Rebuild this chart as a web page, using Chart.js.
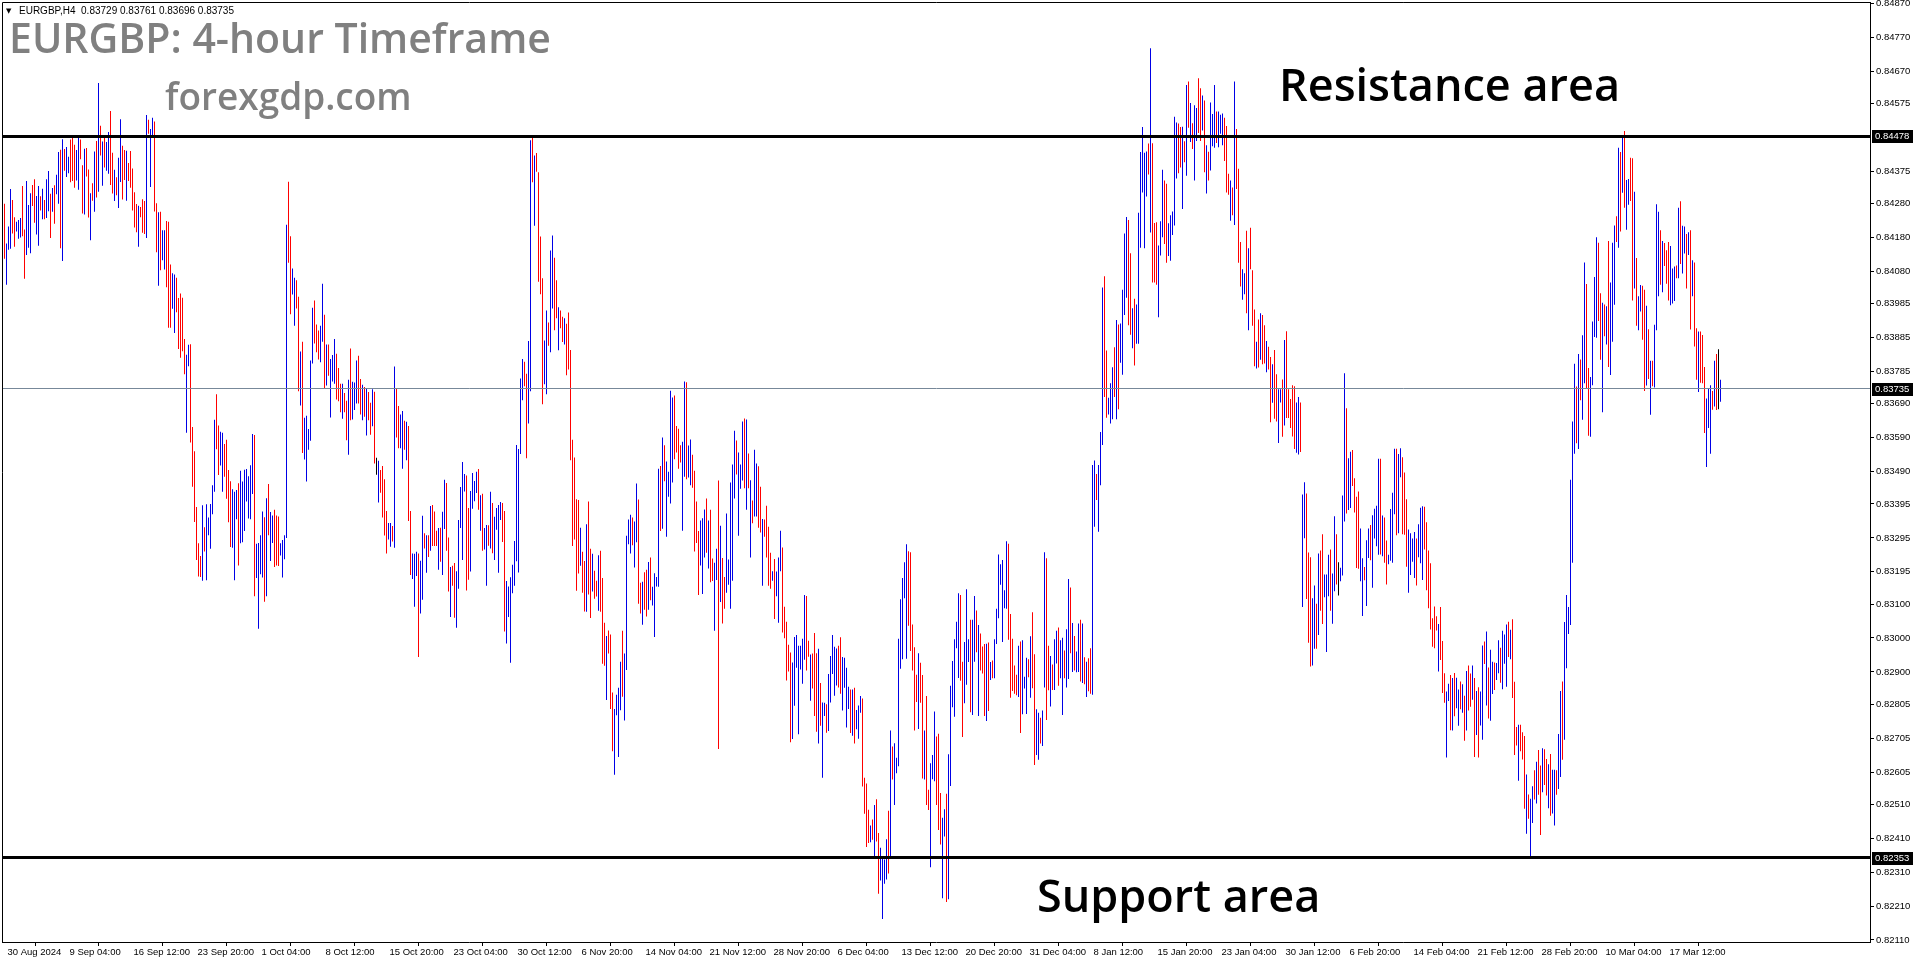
<!DOCTYPE html>
<html><head><meta charset="utf-8">
<script src="https://cdn.jsdelivr.net/npm/chart.js@4/dist/chart.umd.min.js"></script>
<style>html,body{margin:0;padding:0;background:#fff;overflow:hidden}canvas{display:block}</style>
</head><body>
<canvas id="c" width="1916" height="964"></canvas>
<script>
// ---- DATA (EURGBP H4 bars) ----
const highs = [
0.84280,0.84163,0.84213,0.84323,0.84291,0.84240,0.84227,0.84232,0.84238,0.84332,
0.84204,0.84347,0.84276,0.84311,0.84335,0.84352,0.84303,0.84332,0.84302,0.84324,
0.84291,0.84352,0.84376,0.84309,0.84326,0.84334,0.84365,0.84432,0.84439,0.84470,
0.84441,0.84447,0.84418,0.84469,0.84474,0.84454,0.84438,0.84476,0.84469,0.84393,
0.84442,0.84444,0.84381,0.84311,0.84340,0.84434,0.84465,0.84636,0.84510,0.84463,
0.84477,0.84462,0.84491,0.84553,0.84430,0.84380,0.84358,0.84415,0.84529,0.84451,
0.84438,0.84436,0.84400,0.84435,0.84384,0.84314,0.84279,0.84274,0.84270,0.84293,
0.84288,0.84541,0.84527,0.84500,0.84533,0.84522,0.84281,0.84255,0.84256,0.84202,
0.84202,0.84229,0.84227,0.84101,0.84075,0.84071,0.84062,0.84002,0.84015,0.84003,
0.83881,0.83835,0.83864,0.83866,0.83622,0.83550,0.83386,0.83279,0.83242,0.83391,
0.83326,0.83394,0.83355,0.83395,0.83450,0.83643,0.83718,0.83626,0.83608,0.83605,
0.83572,0.83584,0.83495,0.83462,0.83438,0.83431,0.83436,0.83456,0.83493,0.83461,
0.83496,0.83498,0.83477,0.83509,0.83601,0.83598,0.83278,0.83280,0.83303,0.83373,
0.83356,0.83412,0.83454,0.83371,0.83361,0.83378,0.83361,0.83358,0.83279,0.83289,
0.83303,0.84218,0.84345,0.84184,0.84089,0.84062,0.84054,0.84006,0.83844,0.83873,
0.83649,0.83655,0.83616,0.83818,0.83973,0.83995,0.83924,0.83906,0.83920,0.84044,
0.83953,0.83865,0.83865,0.83822,0.83834,0.83881,0.83838,0.83796,0.83749,0.83749,
0.83722,0.83699,0.83761,0.83853,0.83755,0.83753,0.83818,0.83832,0.83763,0.83746,
0.83740,0.83736,0.83725,0.83693,0.83733,0.83726,0.83531,0.83522,0.83495,0.83507,
0.83468,0.83374,0.83339,0.83339,0.83330,0.83800,0.83734,0.83684,0.83659,0.83669,
0.83640,0.83637,0.83625,0.83374,0.83249,0.83248,0.83254,0.83249,0.83228,0.83360,
0.83309,0.83303,0.83303,0.83389,0.83392,0.83373,0.83316,0.83324,0.83325,0.83372,
0.83466,0.83457,0.83296,0.83209,0.83213,0.83221,0.83197,0.83348,0.83445,0.83519,
0.83483,0.83479,0.83383,0.83433,0.83486,0.83463,0.83490,0.83498,0.83421,0.83425,
0.83324,0.83333,0.83332,0.83431,0.83398,0.83357,0.83383,0.83392,0.83401,0.83398,
0.83374,0.83168,0.83152,0.83179,0.83216,0.83286,0.83569,0.83557,0.83765,0.83822,
0.83814,0.83779,0.83875,0.84467,0.84474,0.84422,0.84429,0.84373,0.84183,0.84060,
0.83877,0.83965,0.83930,0.84142,0.84186,0.84121,0.84054,0.83975,0.83965,0.83947,
0.83942,0.83926,0.83959,0.83849,0.83584,0.83532,0.83409,0.83407,0.83325,0.83254,
0.83227,0.83335,0.83402,0.83263,0.83248,0.83198,0.83169,0.83244,0.83257,0.83177,
0.83045,0.83006,0.83022,0.83010,0.82839,0.82791,0.82833,0.82853,0.82930,0.83021,
0.82954,0.83301,0.83349,0.83363,0.83355,0.83343,0.83455,0.83408,0.83163,0.83166,
0.83194,0.83201,0.83224,0.83237,0.83151,0.83191,0.83180,0.83499,0.83507,0.83591,
0.83568,0.83520,0.83490,0.83729,0.83709,0.83715,0.83625,0.83617,0.83568,0.83578,
0.83756,0.83754,0.83567,0.83585,0.83540,0.83493,0.83402,0.83315,0.83346,0.83353,
0.83379,0.83411,0.83346,0.83378,0.83234,0.83222,0.83263,0.83464,0.83331,0.83236,
0.83180,0.83367,0.83231,0.83458,0.83511,0.83611,0.83582,0.83547,0.83511,0.83638,
0.83647,0.83644,0.83544,0.83465,0.83405,0.83555,0.83514,0.83506,0.83446,0.83351,
0.83349,0.83390,0.83328,0.83251,0.83197,0.83233,0.83196,0.83237,0.83316,0.83267,
0.83092,0.83048,0.82980,0.82957,0.82928,0.83003,0.83009,0.82977,0.82977,0.82998,
0.83127,0.83124,0.82992,0.82951,0.82954,0.83015,0.82955,0.82968,0.82867,0.82810,
0.82809,0.82805,0.82894,0.82947,0.83009,0.82974,0.82969,0.82977,0.83002,0.82944,
0.82942,0.82912,0.82856,0.82848,0.82848,0.82853,0.82788,0.82801,0.82829,0.82822,
0.82588,0.82571,0.82494,0.82447,0.82465,0.82508,0.82525,0.82425,0.82382,0.82351,
0.82347,0.82407,0.82491,0.82727,0.82680,0.82690,0.82647,0.82998,0.83114,0.83177,
0.83223,0.83276,0.83256,0.83253,0.83040,0.82973,0.82892,0.82955,0.82927,0.82891,
0.82727,0.82829,0.82553,0.82631,0.82655,0.82783,0.82710,0.82718,0.82543,0.82470,
0.82495,0.82541,0.82657,0.82859,0.82932,0.82996,0.83048,0.83132,0.83127,0.82930,
0.82988,0.83144,0.82996,0.83054,0.83054,0.83124,0.83081,0.83038,0.83013,0.82975,
0.82982,0.82983,0.82987,0.82929,0.82934,0.82996,0.83086,0.83246,0.83217,0.83230,
0.83141,0.83285,0.83278,0.83071,0.82998,0.82919,0.82892,0.82977,0.82990,0.82993,
0.82886,0.82942,0.82937,0.83005,0.83076,0.82952,0.82790,0.82780,0.82765,0.82786,
0.83253,0.83235,0.82977,0.82947,0.82922,0.82996,0.83021,0.83031,0.82993,0.83001,
0.82963,0.83026,0.83174,0.83149,0.83044,0.83006,0.82960,0.83043,0.83054,0.83043,
0.82943,0.82930,0.82940,0.82970,0.83510,0.83523,0.83483,0.83510,0.83607,0.84033,
0.84066,0.83847,0.83708,0.83751,0.83798,0.83857,0.83937,0.83924,0.83927,0.84026,
0.84192,0.84241,0.84232,0.84134,0.83972,0.84000,0.83983,0.84253,0.84432,0.84506,
0.84430,0.84434,0.84457,0.84738,0.84458,0.84223,0.84225,0.84157,0.84228,0.84380,
0.84348,0.84339,0.84222,0.84246,0.84257,0.84536,0.84519,0.84516,0.84506,0.84507,
0.84464,0.84630,0.84640,0.84577,0.84517,0.84570,0.84562,0.84650,0.84620,0.84599,
0.84584,0.84452,0.84433,0.84578,0.84544,0.84630,0.84552,0.84552,0.84542,0.84546,
0.84533,0.84509,0.84368,0.84348,0.84328,0.84640,0.84500,0.84383,0.84167,0.84087,
0.84075,0.84200,0.84149,0.84209,0.84084,0.83968,0.83873,0.83939,0.83957,0.83952,
0.83922,0.83875,0.83858,0.83828,0.83807,0.83849,0.83777,0.83733,0.83733,0.83762,
0.83878,0.83904,0.83733,0.83704,0.83745,0.83742,0.83694,0.83710,0.83694,0.83423,
0.83459,0.83426,0.83252,0.83238,0.83117,0.83155,0.83101,0.83249,0.83258,0.83306,
0.83187,0.83187,0.83245,0.83261,0.83190,0.83359,0.83306,0.83223,0.83207,0.83420,
0.83780,0.83677,0.83530,0.83549,0.83554,0.83471,0.83416,0.83432,0.83323,0.83235,
0.83209,0.83288,0.83323,0.83333,0.83362,0.83381,0.83390,0.83528,0.83528,0.83361,
0.83355,0.83287,0.83245,0.83380,0.83428,0.83558,0.83558,0.83542,0.83559,0.83533,
0.83488,0.83409,0.83320,0.83309,0.83293,0.83312,0.83293,0.83335,0.83384,0.83388,
0.83387,0.83341,0.83258,0.83220,0.83058,0.83093,0.83064,0.83041,0.83091,0.82991,
0.82896,0.82842,0.82865,0.82891,0.82882,0.82897,0.82883,0.82848,0.82872,0.82864,
0.82830,0.82903,0.82919,0.82895,0.82919,0.82882,0.82844,0.82855,0.82842,0.82978,
0.82990,0.83019,0.82913,0.82965,0.82930,0.82928,0.82926,0.82993,0.82971,0.83021,
0.83010,0.83040,0.83048,0.83024,0.83055,0.82871,0.82738,0.82744,0.82744,0.82722,
0.82711,0.82598,0.82539,0.82526,0.82563,0.82610,0.82635,0.82670,0.82624,0.82675,
0.82672,0.82643,0.82628,0.82658,0.82612,0.82612,0.82610,0.82717,0.82844,0.82872,
0.83047,0.83127,0.83091,0.83466,0.83638,0.83808,0.83741,0.83837,0.83821,0.83892,
0.84107,0.84043,0.83796,0.83769,0.83933,0.84064,0.84181,0.84165,0.84016,0.83988,
0.83983,0.83978,0.84170,0.84048,0.84165,0.84216,0.84243,0.84445,0.84432,0.84478,
0.84494,0.84350,0.84353,0.84415,0.84414,0.84315,0.84120,0.84007,0.84040,0.84038,
0.84026,0.83979,0.83910,0.83817,0.83817,0.83923,0.84278,0.84256,0.84202,0.84170,
0.84164,0.84143,0.84167,0.84155,0.84089,0.84095,0.84098,0.84268,0.84287,0.84215,
0.84213,0.84191,0.84196,0.84202,0.84113,0.84107,0.83913,0.83903,0.83903,0.83893,
0.83799,0.83706,0.83735,0.83745,0.83728,0.83817,0.83837,0.83851,0.83761];

const lows = [
0.84118,0.84041,0.84144,0.84147,0.84192,0.84153,0.84198,0.84177,0.84180,0.84184,
0.84059,0.84129,0.84150,0.84134,0.84273,0.84224,0.84189,0.84156,0.84260,0.84234,
0.84234,0.84238,0.84258,0.84179,0.84256,0.84221,0.84308,0.84280,0.84149,0.84111,
0.84377,0.84359,0.84370,0.84343,0.84347,0.84327,0.84348,0.84321,0.84411,0.84251,
0.84248,0.84360,0.84239,0.84172,0.84289,0.84256,0.84298,0.84315,0.84422,0.84333,
0.84387,0.84377,0.84368,0.84335,0.84310,0.84288,0.84305,0.84267,0.84344,0.84292,
0.84350,0.84289,0.84347,0.84327,0.84260,0.84210,0.84196,0.84153,0.84240,0.84194,
0.84191,0.84179,0.84486,0.84329,0.84482,0.84257,0.84137,0.84038,0.84084,0.84113,
0.84086,0.84034,0.83914,0.83914,0.83970,0.83899,0.83960,0.83852,0.83826,0.83845,
0.83777,0.83605,0.83801,0.83576,0.83446,0.83342,0.83230,0.83181,0.83180,0.83169,
0.83255,0.83170,0.83303,0.83263,0.83365,0.83431,0.83556,0.83480,0.83508,0.83431,
0.83475,0.83410,0.83341,0.83268,0.83266,0.83170,0.83350,0.83214,0.83279,0.83282,
0.83315,0.83402,0.83352,0.83350,0.83424,0.83123,0.83177,0.83027,0.83188,0.83178,
0.83107,0.83123,0.83303,0.83227,0.83280,0.83209,0.83214,0.83212,0.83243,0.83178,
0.83232,0.83295,0.84106,0.83954,0.84012,0.83920,0.83971,0.83727,0.83685,0.83545,
0.83526,0.83461,0.83555,0.83581,0.83809,0.83868,0.83842,0.83821,0.83813,0.83873,
0.83734,0.83744,0.83773,0.83650,0.83756,0.83749,0.83703,0.83698,0.83665,0.83646,
0.83665,0.83583,0.83540,0.83642,0.83644,0.83672,0.83691,0.83691,0.83659,0.83642,
0.83652,0.83597,0.83642,0.83599,0.83624,0.83514,0.83481,0.83399,0.83428,0.83355,
0.83302,0.83249,0.83290,0.83269,0.83284,0.83266,0.83591,0.83559,0.83559,0.83499,
0.83555,0.83524,0.83345,0.83186,0.83174,0.83092,0.83183,0.82944,0.83072,0.83113,
0.83264,0.83192,0.83239,0.83257,0.83271,0.83271,0.83271,0.83201,0.83225,0.83186,
0.83321,0.83257,0.83137,0.83062,0.83154,0.83060,0.83030,0.83145,0.83324,0.83230,
0.83432,0.83140,0.83172,0.83196,0.83381,0.83403,0.83427,0.83378,0.83316,0.83257,
0.83261,0.83154,0.83272,0.83264,0.83250,0.83230,0.83319,0.83192,0.83348,0.83283,
0.83019,0.82984,0.83062,0.82927,0.83132,0.83154,0.83226,0.83193,0.83542,0.83701,
0.83742,0.83530,0.83632,0.83727,0.84343,0.84215,0.84374,0.84050,0.84013,0.83689,
0.83748,0.83718,0.83861,0.83842,0.83971,0.83907,0.83942,0.83848,0.83913,0.83872,
0.83865,0.83774,0.83791,0.83524,0.83271,0.83290,0.83139,0.83190,0.83213,0.83133,
0.83078,0.83077,0.83128,0.83059,0.83137,0.83116,0.83122,0.83080,0.83077,0.82924,
0.82918,0.82817,0.82954,0.82791,0.82666,0.82597,0.82772,0.82649,0.82787,0.82827,
0.82757,0.82906,0.83276,0.83249,0.83273,0.83208,0.83282,0.83101,0.83072,0.83039,
0.83083,0.83063,0.83083,0.83111,0.83096,0.83003,0.83152,0.83151,0.83315,0.83322,
0.83462,0.83298,0.83416,0.83396,0.83458,0.83527,0.83547,0.83499,0.83517,0.83316,
0.83475,0.83468,0.83473,0.83450,0.83443,0.83255,0.83280,0.83127,0.83214,0.83130,
0.83237,0.83251,0.83205,0.83164,0.83168,0.83021,0.83171,0.82673,0.83106,0.83043,
0.83086,0.83133,0.83157,0.83086,0.83169,0.83411,0.83482,0.83301,0.83440,0.83464,
0.83441,0.83378,0.83441,0.83237,0.83338,0.83358,0.83358,0.83325,0.83311,0.83154,
0.83298,0.83237,0.83154,0.83145,0.83169,0.83056,0.83123,0.83045,0.83197,0.83016,
0.82999,0.82875,0.82901,0.82693,0.82702,0.82800,0.82912,0.82716,0.82907,0.82865,
0.82936,0.82904,0.82945,0.82815,0.82851,0.82770,0.82724,0.82689,0.82741,0.82588,
0.82770,0.82721,0.82726,0.82810,0.82894,0.82830,0.82860,0.82854,0.82836,0.82786,
0.82853,0.82736,0.82791,0.82720,0.82712,0.82689,0.82731,0.82703,0.82780,0.82562,
0.82482,0.82384,0.82396,0.82398,0.82405,0.82352,0.82400,0.82246,0.82285,0.82172,
0.82276,0.82288,0.82306,0.82352,0.82583,0.82508,0.82601,0.82622,0.82909,0.82937,
0.83117,0.82939,0.83036,0.82962,0.82904,0.82727,0.82811,0.82732,0.82809,0.82586,
0.82583,0.82508,0.82493,0.82324,0.82584,0.82578,0.82508,0.82434,0.82391,0.82233,
0.82415,0.82222,0.82230,0.82564,0.82796,0.82768,0.82970,0.82882,0.82874,0.82708,
0.82808,0.82862,0.82929,0.82781,0.82773,0.82930,0.82958,0.82770,0.82904,0.82895,
0.82770,0.82755,0.82785,0.82876,0.82881,0.82881,0.82982,0.83058,0.83157,0.82988,
0.83088,0.83086,0.82995,0.82824,0.82844,0.82836,0.82831,0.82826,0.82720,0.82775,
0.82851,0.82776,0.82884,0.82824,0.82852,0.82626,0.82655,0.82641,0.82689,0.82682,
0.82854,0.82758,0.82846,0.82798,0.82847,0.82847,0.82925,0.82859,0.82881,0.82773,
0.82881,0.82854,0.82879,0.82955,0.82900,0.82904,0.82899,0.82900,0.82872,0.82867,
0.82864,0.82826,0.82843,0.82836,0.82833,0.83328,0.83407,0.83313,0.83450,0.83569,
0.83710,0.83649,0.83659,0.83632,0.83645,0.83710,0.83645,0.83674,0.83811,0.83776,
0.83952,0.84003,0.83922,0.83894,0.83854,0.83803,0.83867,0.83867,0.84150,0.84313,
0.84149,0.84301,0.84366,0.84195,0.84048,0.84048,0.84041,0.83945,0.84127,0.84181,
0.84161,0.84106,0.84126,0.84112,0.84188,0.84216,0.84354,0.84370,0.84387,0.84264,
0.84402,0.84362,0.84504,0.84462,0.84441,0.84348,0.84465,0.84488,0.84465,0.84496,
0.84373,0.84310,0.84348,0.84378,0.84449,0.84445,0.84459,0.84446,0.84486,0.84452,
0.84406,0.84313,0.84306,0.84230,0.84246,0.84217,0.84323,0.84106,0.84036,0.83997,
0.84013,0.83957,0.83907,0.84087,0.83920,0.83801,0.83794,0.83797,0.83820,0.83807,
0.83809,0.83783,0.83791,0.83636,0.83693,0.83646,0.83638,0.83575,0.83694,0.83593,
0.83626,0.83648,0.83648,0.83619,0.83594,0.83557,0.83546,0.83541,0.83548,0.83091,
0.83294,0.83115,0.82986,0.82916,0.82919,0.82968,0.82968,0.83009,0.83080,0.83041,
0.83120,0.82959,0.83123,0.83080,0.83042,0.83138,0.83158,0.83125,0.83167,0.83184,
0.83343,0.83367,0.83377,0.83383,0.83448,0.83370,0.83206,0.83204,0.83167,0.83065,
0.83170,0.83094,0.83236,0.83229,0.83148,0.83293,0.83270,0.83245,0.83246,0.83241,
0.83222,0.83158,0.83217,0.83228,0.83222,0.83365,0.83303,0.83309,0.83474,0.83306,
0.83304,0.83210,0.83133,0.83186,0.83225,0.83177,0.83155,0.83238,0.83220,0.83171,
0.83261,0.83141,0.83088,0.83025,0.82974,0.82970,0.83022,0.82901,0.82935,0.82838,
0.82809,0.82648,0.82814,0.82728,0.82727,0.82769,0.82793,0.82741,0.82790,0.82780,
0.82697,0.82727,0.82786,0.82797,0.82818,0.82649,0.82714,0.82648,0.82742,0.82700,
0.82923,0.82801,0.82763,0.82756,0.82835,0.82847,0.82876,0.82896,0.82868,0.82849,
0.82924,0.82856,0.82944,0.82937,0.82823,0.82655,0.82683,0.82579,0.82666,0.82642,
0.82497,0.82423,0.82467,0.82356,0.82455,0.82524,0.82512,0.82538,0.82419,0.82545,
0.82567,0.82536,0.82498,0.82476,0.82483,0.82447,0.82538,0.82555,0.82590,0.82641,
0.82700,0.82911,0.83012,0.83038,0.83222,0.83543,0.83574,0.83557,0.83701,0.83643,
0.83751,0.83737,0.83596,0.83593,0.83745,0.83887,0.83885,0.83934,0.83820,0.83665,
0.83889,0.83865,0.83799,0.83775,0.83873,0.83982,0.84167,0.84150,0.84198,0.84312,
0.84268,0.84203,0.84277,0.84288,0.83995,0.84030,0.83920,0.83907,0.83962,0.83879,
0.83728,0.83744,0.83763,0.83658,0.83742,0.83738,0.83907,0.84007,0.84041,0.84019,
0.84096,0.84044,0.83995,0.83981,0.83986,0.83993,0.84060,0.84060,0.84102,0.84074,
0.84133,0.84030,0.84129,0.83909,0.84007,0.83859,0.83761,0.83725,0.83752,0.83751,
0.83604,0.83504,0.83619,0.83543,0.83673,0.83682,0.83672,0.83674,0.83696];

// bar direction: u = up (close > open), d = down, n = unchanged
const directions = [
"duuudduuud","duuudduudu","duududuudu","duuddduudd","uddudududu","duudduduud","dudddddudd","duduuddudu","uddduudddd","duuddddddu",
"duuuuudduu","dddduuuduu","uuuuuduuuu","duduuddduu","uudduuddud","uuuuuddduu","duduuudddu","dduduuuddu","duddudnudd","dduududduu",
"dudduuuduu","dududddudu","uddudduuuu","udduuuudud","uududuuuud","duuuuuuuuu","dduududddd","uuduuddudd","udddddddud","dudduddudd",
"duddduuuud","uuuuduuddu","dduduuuudu","duuuuddddu","uduudddduu","ududduudud","duuuuuduuu","dududuuddu","dddduduuud","dddduuuuuu",
"uddudddudu","uduuuuuddu","uuududuuud","dddududduu","uududuuuuu","uudddddudd","udduuudddu","uduuuuuudd","uuuduududd","dududuuuuu",
"uudddddudu","uududduudu","udduduuduu","duududuudu","dudduuduuu","dduuududuu","uudduduuuu","uududdduuu","dduuuuuddu","dududuuddu",
"duduuuduuu","dddududddu","ududddudud","duddudduud","uddddduudu","uddduududd","uuuduudnuu","uduudddduu","duuduuuudu","dduuuuduud",
"dduuuuduuu","dddddddudd","duududuudu","duddududuu","duduuduudu","uududddudd","duduududdu","dduduuduud","uuuuuududu","udduuuuddu",
"duduuududu","duudduduud","dududuuudu","ddduuududu","udududdudd","duuududnu"
].join('').split('');

const xTickIndex = [0,31,63,95,127,159,191,223,255,287,319,351,383,415,447,479,511,543,575,607,639,671,703,735,767,799,831];
const xTickLabels = ['30 Aug 2024','9 Sep 04:00','16 Sep 12:00','23 Sep 20:00','1 Oct 04:00','8 Oct 12:00','15 Oct 20:00',
 '23 Oct 04:00','30 Oct 12:00','6 Nov 20:00','14 Nov 04:00','21 Nov 12:00','28 Nov 20:00','6 Dec 04:00','13 Dec 12:00',
 '20 Dec 20:00','31 Dec 04:00','8 Jan 12:00','15 Jan 20:00','23 Jan 04:00','30 Jan 12:00','6 Feb 20:00','14 Feb 04:00',
 '21 Feb 12:00','28 Feb 20:00','10 Mar 04:00','17 Mar 12:00'];
const yTickValues = [0.84870,0.84770,0.84670,0.84575,0.84375,0.84280,0.84180,0.84080,0.83985,0.83885,0.83785,0.83690,
 0.83590,0.83490,0.83395,0.83295,0.83195,0.83100,0.83000,0.82900,0.82805,0.82705,0.82605,0.82510,0.82410,0.82310,0.82210,0.82110];
const levelValues = [0.84478, 0.82353];     // resistance, support
const lastPrice = [0.83735];                // current bid line
const headerOHLC = [0.83729, 0.83761, 0.83696, 0.83735];
const annotations = ['Resistance area', 'Support area'];

// ---- STYLE / LAYOUT ----
const UP = '#0000E6', DOWN = '#FF0000', FLAT = '#000000';
const Y_MIN = 0.821040, Y_MAX = 0.848744;
const AX_FONT = {family: '"Liberation Sans", Arial, sans-serif', size: 9.5};

const points = highs.map((h, i) => ({x: i, y: [lows[i], h]}));
const colors = directions.map(c => c === 'u' ? UP : c === 'd' ? DOWN : FLAT);

const overlay = {
  id: 'overlay',
  afterDatasetsDraw(chart) {
    const {ctx, chartArea: a, scales: {y}} = chart;
    ctx.save();
    ctx.strokeStyle = '#000'; ctx.lineWidth = 1;
    ctx.beginPath();
    ctx.moveTo(a.left + 0.5, a.bottom + 1); ctx.lineTo(a.left + 0.5, a.top + 0.5); ctx.lineTo(a.right + 1, a.top + 0.5);
    ctx.stroke();
    // current price line
    const yl = Math.floor(y.getPixelForValue(lastPrice[0])) + 0.5;
    ctx.strokeStyle = '#778899'; ctx.lineWidth = 1;
    ctx.beginPath(); ctx.moveTo(a.left + 1, yl); ctx.lineTo(a.right, yl); ctx.stroke();
    // support / resistance
    ctx.strokeStyle = '#000'; ctx.lineWidth = 3;
    levelValues.forEach(v => {
      const yy = Math.floor(y.getPixelForValue(v)) + 0.5;
      ctx.beginPath(); ctx.moveTo(a.left + 1, yy); ctx.lineTo(a.right, yy); ctx.stroke();
    });
    ctx.restore();
  },
  afterDraw(chart) {
    const {ctx, chartArea: a, scales: {y}} = chart;
    ctx.save();
    // highlighted price labels on the axis
    ctx.font = '9.5px "Liberation Sans", Arial, sans-serif';
    ctx.textBaseline = 'middle'; ctx.textAlign = 'left';
    [levelValues[0], lastPrice[0], levelValues[1]].forEach(v => {
      const yy = Math.round(y.getPixelForValue(v));
      ctx.fillStyle = '#000'; ctx.fillRect(a.right + 2, yy - 6, 41, 13);
      ctx.fillStyle = '#fff'; ctx.fillText(v.toFixed(5), a.right + 5, yy + 0.5);
    });
    // header line
    ctx.fillStyle = '#000';
    ctx.font = '7px "DejaVu Sans", sans-serif';
    ctx.fillText('\u25BC', 6, 11);
    ctx.font = '10px "Liberation Sans", Arial, sans-serif';
    ctx.fillText('EURGBP,H4  ' + headerOHLC.map(v => v.toFixed(5)).join(' '), 19, 11);
    // watermark title
    ctx.textBaseline = 'alphabetic';
    ctx.fillStyle = '#808080';
    ctx.font = '600 41px "Open Sans", sans-serif';
    ctx.fillText('EURGBP: 4-hour Timeframe', 9, 53);
    ctx.font = '600 37px "Open Sans", sans-serif';
    ctx.fillText('forexgdp.com', 165, 110);
    // zone annotations
    ctx.fillStyle = '#000';
    ctx.font = '600 45px "Open Sans", sans-serif';
    ctx.fillText(annotations[0], 1279, 101);
    ctx.fillText(annotations[1], 1037, 912);
    ctx.restore();
  }
};

new Chart(document.getElementById('c'), {
  type: 'bar',
  data: {datasets: [{data: points, backgroundColor: colors, borderWidth: 0, barThickness: 1,
                     inflateAmount: 0, grouped: false}]},
  options: {
    responsive: false, animation: false, devicePixelRatio: 1,
    layout: {padding: {left: 2, top: 2, right: 0, bottom: 0}, autoPadding: false},
    plugins: {legend: {display: false}, tooltip: {enabled: false}, title: {display: false}},
    scales: {
      x: {
        type: 'linear', min: -1.25, max: 932.75, offset: false, bounds: 'data',
        grid: {display: true, drawOnChartArea: false, drawTicks: true, tickLength: 4, color: '#000'},
        border: {display: true, color: '#000', width: 1},
        ticks: {autoSkip: false, maxRotation: 0, minRotation: 0, align: 'start', labelOffset: 3, padding: 1,
                color: '#000', font: AX_FONT, callback: (v, i) => xTickLabels[i]},
        afterBuildTicks: s => { s.ticks = xTickIndex.map(v => ({value: v})); },
        afterFit: s => { s.height = 22; s.paddingLeft = 0; s.paddingRight = 0; s.paddingTop = 0; s.paddingBottom = 0; }
      },
      y: {
        type: 'linear', position: 'right', min: Y_MIN, max: Y_MAX, bounds: 'data',
        grid: {display: true, drawOnChartArea: false, drawTicks: true, tickLength: 4, color: '#000'},
        border: {display: true, color: '#000', width: 1},
        ticks: {padding: 2, color: '#000', font: AX_FONT, callback: v => Number(v).toFixed(5)},
        afterBuildTicks: s => { s.ticks = yTickValues.map(v => ({value: v})); },
        afterFit: s => { s.width = 46; s.paddingTop = 0; s.paddingBottom = 0; s.paddingLeft = 0; s.paddingRight = 0; }
      }
    }
  },
  plugins: [overlay]
});
</script>
</body></html>
